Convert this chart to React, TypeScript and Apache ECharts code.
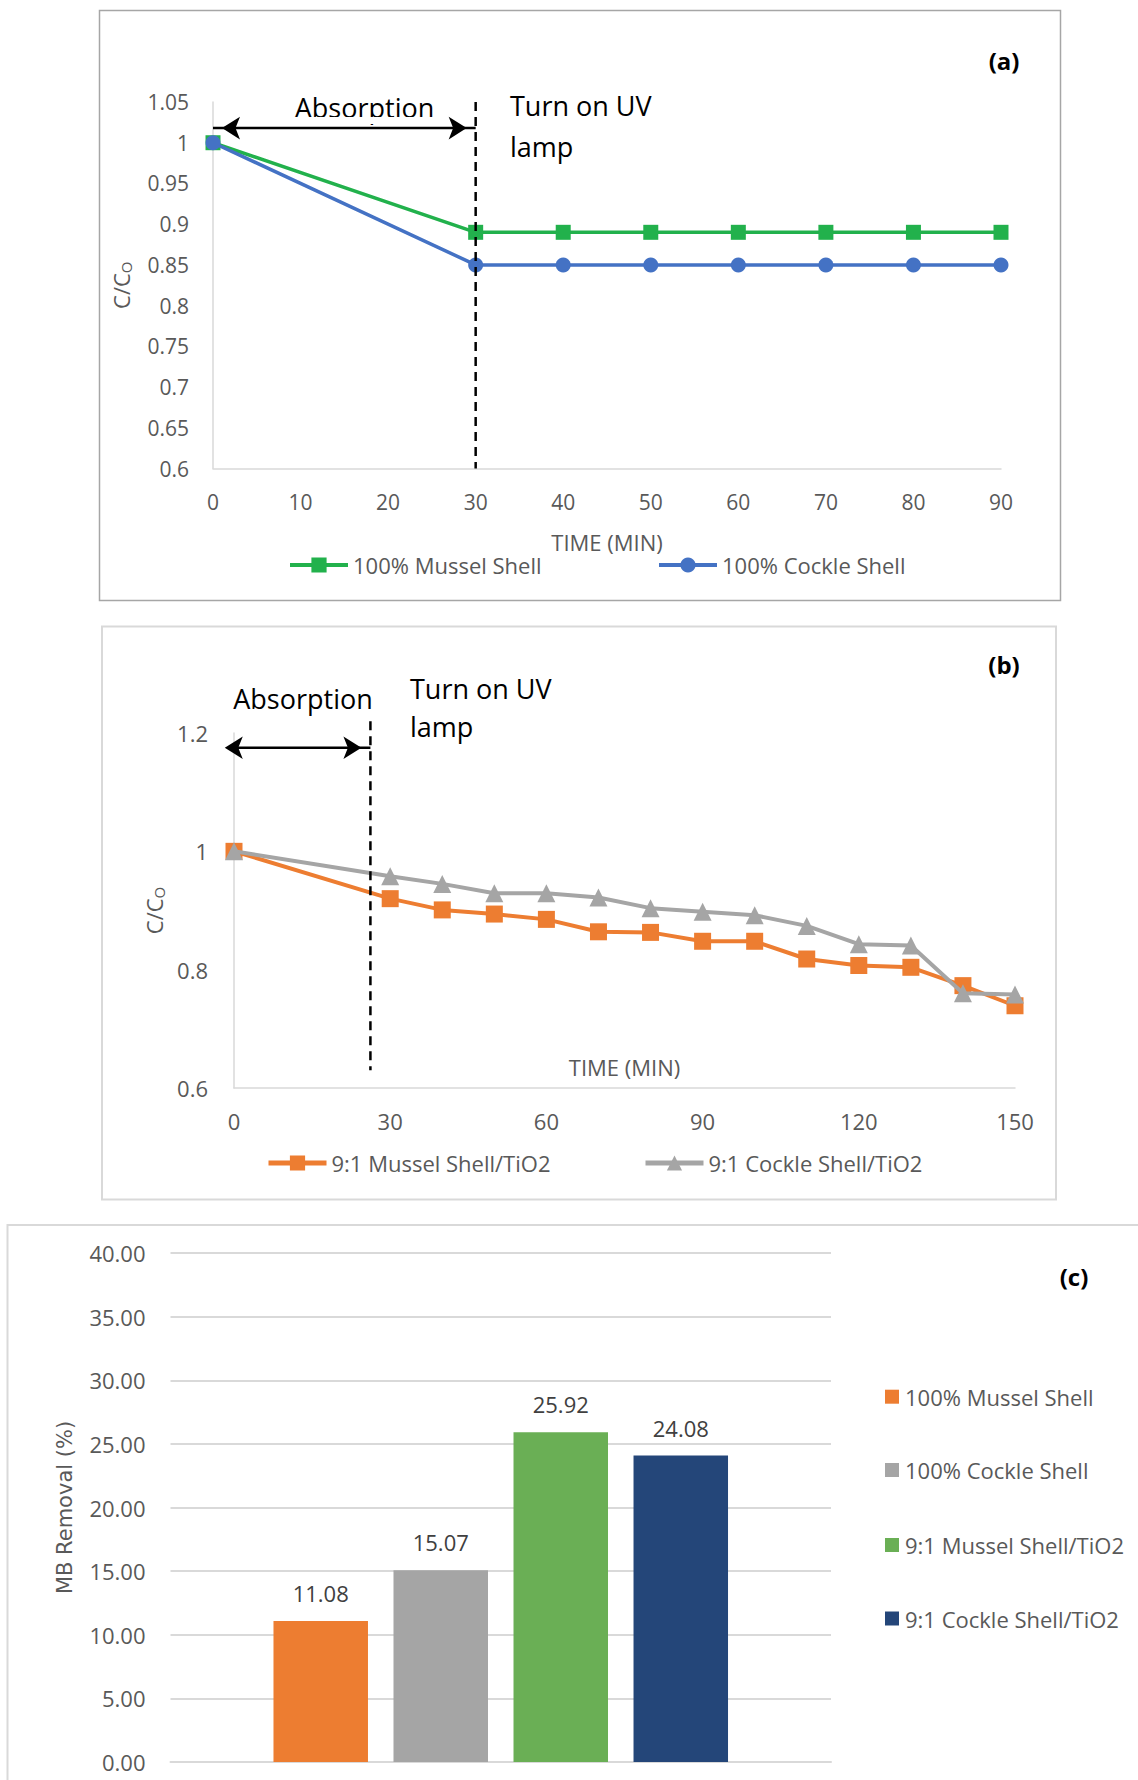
import React, { useEffect, useRef } from "react";
import * as echarts from "echarts";

// ---------- data ----------
const TIME_A = [0, 30, 40, 50, 60, 70, 80, 90];
const MUSSEL_A = [1, 0.89, 0.89, 0.89, 0.89, 0.89, 0.89, 0.89];
const COCKLE_A = [1, 0.85, 0.85, 0.85, 0.85, 0.85, 0.85, 0.85];
const DASH_A = [[30, 1.05], [30, 0.6]];
const ARROW_A = [[0, 1.018], [30, 1.018]];

const TIME_B = [0, 30, 40, 50, 60, 70, 80, 90, 100, 110, 120, 130, 140, 150];
const MUSSEL_B = [1, 0.92, 0.901, 0.894, 0.885, 0.864, 0.863, 0.848, 0.848, 0.818, 0.807, 0.804, 0.773, 0.739];
const COCKLE_B = [1, 0.958, 0.945, 0.929, 0.929, 0.922, 0.904, 0.898, 0.892, 0.874, 0.843, 0.841, 0.76, 0.758];
const DASH_B = [[26.2, 1.22], [26.2, 0.63]];
const ARROW_B = [[-3.5, 1.175], [26.2, 1.175]];

const BAR_NAMES = ["100% Mussel Shell", "100% Cockle Shell", "9:1 Mussel Shell/TiO2", "9:1 Cockle Shell/TiO2"];
const BAR_VALUES = [11.08, 15.07, 25.92, 24.08];
const BAR_COLORS = ["#ed7d31", "#a5a5a5", "#6aaf55", "#244679"];

const LINE_A_NAMES = ["100% Mussel Shell", "100% Cockle Shell"];
const LINE_B_NAMES = ["9:1 Mussel Shell/TiO2", "9:1 Cockle Shell/TiO2"];

// ---------- style ----------
const FONT = "'Open Sans', sans-serif";
const TXT = "#595959";
const AXIS = "#d9d9d9";
const GREEN = "#22b14c";
const BLUE = "#4472c4";
const ORANGE = "#ed7d31";
const GREY = "#a5a5a5";

const fmt = (v: number) => String(Math.round(v * 100) / 100);

const pairs = (xs: number[], ys: number[]) => xs.map((x, i) => [x, ys[i]]);

const arrowSeries = (pts: number[][]) => ({
  type: "line",
  silent: true,
  clip: false,
  symbol: "arrow",
  symbolSize: [17, 18],
  symbolKeepAspect: false,
  lineStyle: { color: "#000", width: 2.5 },
  itemStyle: { color: "#000" },
  z: 6,
  data: [
    { value: pts[0], symbolRotate: 90, symbolOffset: [9, 0] },
    { value: pts[1], symbolRotate: -90, symbolOffset: [-9, 0] },
  ],
});

const dashSeries = (pts: number[][]) => ({
  type: "line",
  silent: true,
  clip: false,
  symbol: "none",
  lineStyle: { color: "#000", width: 2.5, type: [9, 6] },
  z: 5,
  data: pts,
});

const txt = (text: string, x: number, y: number, size: number, align = "left", bold = false, color = "#000") => ({
  type: "text",
  x,
  y,
  silent: true,
  style: {
    text,
    fontSize: size,
    fontFamily: FONT,
    fontWeight: bold ? "bold" : "normal",
    fill: color,
    align,
    verticalAlign: "middle",
  },
});

const lineLegend = (name: string, left: number, centerY: number, lw: number) => ({
  data: [name],
  left,
  top: centerY - 11,
  padding: 0,
  itemWidth: 58,
  itemHeight: 19,
  selectedMode: false,
  lineStyle: { width: lw },
  textStyle: { fontSize: 22, color: TXT, fontFamily: FONT, lineHeight: 22 },
});

const cName = {
  fontSize: 22,
  color: TXT,
  fontFamily: FONT,
  rich: { s: { fontSize: 15, color: TXT, fontFamily: FONT, padding: [10, 0, 0, 0] } },
};

function optionA() {
  return {
    animation: false,
    textStyle: { fontFamily: FONT },
    grid: { left: 213, top: 102, width: 788, height: 366.5 },
    xAxis: {
      type: "value", min: 0, max: 90, interval: 10,
      axisLine: { show: true, lineStyle: { color: AXIS, width: 1.5 } },
      axisTick: { show: false }, splitLine: { show: false },
      axisLabel: { fontSize: 21, color: TXT, margin: 23 },
      name: "TIME (MIN)", nameLocation: "middle", nameGap: 62,
      nameTextStyle: { fontSize: 22, color: TXT },
    },
    yAxis: {
      type: "value", min: 0.6, max: 1.05, interval: 0.05,
      axisLine: { show: true, lineStyle: { color: AXIS, width: 1.5 } },
      axisTick: { show: false }, splitLine: { show: false },
      axisLabel: { fontSize: 21, color: TXT, margin: 24, formatter: fmt },
      name: "C/C{s|O}", nameLocation: "middle", nameRotate: 90, nameGap: 80,
      nameTextStyle: cName,
    },
    legend: [lineLegend(LINE_A_NAMES[0], 288, 565, 4), lineLegend(LINE_A_NAMES[1], 657, 565, 4)],
    series: [
      {
        name: LINE_A_NAMES[0], type: "line", data: pairs(TIME_A, MUSSEL_A),
        symbol: "rect", symbolSize: 15, lineStyle: { width: 3.5, color: GREEN },
        itemStyle: { color: GREEN }, z: 3,
      },
      {
        name: LINE_A_NAMES[1], type: "line", data: pairs(TIME_A, COCKLE_A),
        symbol: "circle", symbolSize: 15, lineStyle: { width: 3.5, color: BLUE },
        itemStyle: { color: BLUE }, z: 4,
      },
      dashSeries(DASH_A),
      arrowSeries(ARROW_A),
    ],
    graphic: [
      { type: "rect", silent: true, shape: { x: 99.5, y: 10.5, width: 961, height: 590 }, style: { fill: "none", stroke: "#a6a6a6", lineWidth: 1.5 } },
      txt("Absorption", 364.5, 107, 27, "center"),
      { type: "rect", silent: true, shape: { x: 285, y: 117, width: 160, height: 7 }, style: { fill: "#fff" } },
      txt("Turn on UV", 510, 105, 27),
      txt("lamp", 510, 146, 27),
      txt("(a)", 1004, 60, 24, "center", true),
    ],
  };
}

function optionB() {
  return {
    animation: false,
    textStyle: { fontFamily: FONT },
    grid: { left: 234, top: 120, width: 781, height: 355 },
    xAxis: {
      type: "value", min: 0, max: 150, interval: 30,
      axisLine: { show: true, lineStyle: { color: AXIS, width: 1.5 } },
      axisTick: { show: false }, splitLine: { show: false },
      axisLabel: { fontSize: 22, color: TXT, margin: 22 },
      name: "TIME (MIN)", nameLocation: "middle", nameGap: -32.5,
      nameTextStyle: { fontSize: 22, color: TXT },
    },
    yAxis: {
      type: "value", min: 0.6, max: 1.2, interval: 0.2,
      axisLine: { show: true, lineStyle: { color: AXIS, width: 1.5 } },
      axisTick: { show: false }, splitLine: { show: false },
      axisLabel: { fontSize: 22, color: TXT, margin: 26, formatter: fmt },
      name: "C/C{s|O}", nameLocation: "middle", nameRotate: 90, nameGap: 67,
      nameTextStyle: cName,
    },
    legend: [lineLegend(LINE_B_NAMES[0], 266, 550, 5), lineLegend(LINE_B_NAMES[1], 643, 550, 5)],
    series: [
      {
        name: LINE_B_NAMES[0], type: "line", data: pairs(TIME_B, MUSSEL_B),
        symbol: "rect", symbolSize: 17, lineStyle: { width: 4, color: ORANGE },
        itemStyle: { color: ORANGE }, z: 3,
      },
      {
        name: LINE_B_NAMES[1], type: "line", data: pairs(TIME_B, COCKLE_B),
        symbol: "triangle", symbolSize: 18, lineStyle: { width: 4, color: GREY },
        itemStyle: { color: GREY }, z: 4,
      },
      dashSeries(DASH_B),
      arrowSeries(ARROW_B),
    ],
    graphic: [
      { type: "rect", silent: true, shape: { x: 102, y: 13.5, width: 954, height: 573 }, style: { fill: "none", stroke: AXIS, lineWidth: 2 } },
      txt("Absorption", 303, 85.5, 27, "center"),
      txt("Turn on UV", 410, 75, 27),
      txt("lamp", 410, 113, 27),
      txt("(b)", 1004, 51, 24, "center", true),
    ],
  };
}

function optionC() {
  const legendCenters = [184.7, 258, 333, 406.5];
  return {
    animation: false,
    textStyle: { fontFamily: FONT },
    grid: { left: 170.5, top: 41, width: 660.5, height: 509 },
    xAxis: {
      type: "category", data: [""],
      axisLine: { show: true, lineStyle: { color: AXIS, width: 2 } },
      axisTick: { show: false }, axisLabel: { show: false },
    },
    yAxis: {
      type: "value", min: 0, max: 40, interval: 5,
      axisLine: { show: false }, axisTick: { show: false },
      splitLine: { show: true, lineStyle: { color: AXIS, width: 2 } },
      axisLabel: { fontSize: 22, color: TXT, margin: 25, formatter: (v: number) => v.toFixed(2) },
      name: "MB Removal (%)", nameLocation: "middle", nameRotate: 90, nameGap: 95,
      nameTextStyle: { fontSize: 21, color: TXT, fontFamily: "'DejaVu Sans', sans-serif" },
    },
    legend: BAR_NAMES.map((n, i) => ({
      data: [n],
      left: 885,
      top: legendCenters[i] - 11,
      padding: 0,
      icon: "rect",
      itemWidth: 14,
      itemHeight: 14,
      selectedMode: false,
      textStyle: { fontSize: 22, color: TXT, fontFamily: FONT, lineHeight: 22, padding: [0, 0, 0, 1] },
    })),
    series: BAR_NAMES.map((n, i) => ({
      name: n,
      type: "bar",
      data: [BAR_VALUES[i]],
      barWidth: 94.5,
      barGap: "27%",
      itemStyle: { color: BAR_COLORS[i] },
      label: {
        show: true, position: "top", distance: 17, fontSize: 22, color: "#404040",
        formatter: (p: any) => Number(p.value).toFixed(2),
      },
    })),
    graphic: [
      { type: "rect", silent: true, shape: { x: 7.5, y: 13, width: 1200, height: 700 }, style: { fill: "none", stroke: AXIS, lineWidth: 2 } },
      txt("(c)", 1074, 64, 24, "center", true),
    ],
  };
}

export default function App() {
  const refA = useRef<HTMLDivElement>(null);
  const refB = useRef<HTMLDivElement>(null);
  const refC = useRef<HTMLDivElement>(null);

  useEffect(() => {
    const a = echarts.init(refA.current!, null, { renderer: "svg" });
    const b = echarts.init(refB.current!, null, { renderer: "svg" });
    const c = echarts.init(refC.current!, null, { renderer: "svg" });
    a.setOption(optionA() as any);
    b.setOption(optionB() as any);
    c.setOption(optionC() as any);
    return () => {
      a.dispose();
      b.dispose();
      c.dispose();
    };
  }, []);

  return (
    <div style={{ position: "absolute", left: 0, top: 0, width: 1138, height: 1780, background: "#fff", overflow: "hidden" }}>
      <div ref={refA} style={{ position: "absolute", left: 0, top: 0, width: 1138, height: 613 }} />
      <div ref={refB} style={{ position: "absolute", left: 0, top: 613, width: 1138, height: 599 }} />
      <div ref={refC} style={{ position: "absolute", left: 0, top: 1212, width: 1138, height: 568 }} />
    </div>
  );
}
